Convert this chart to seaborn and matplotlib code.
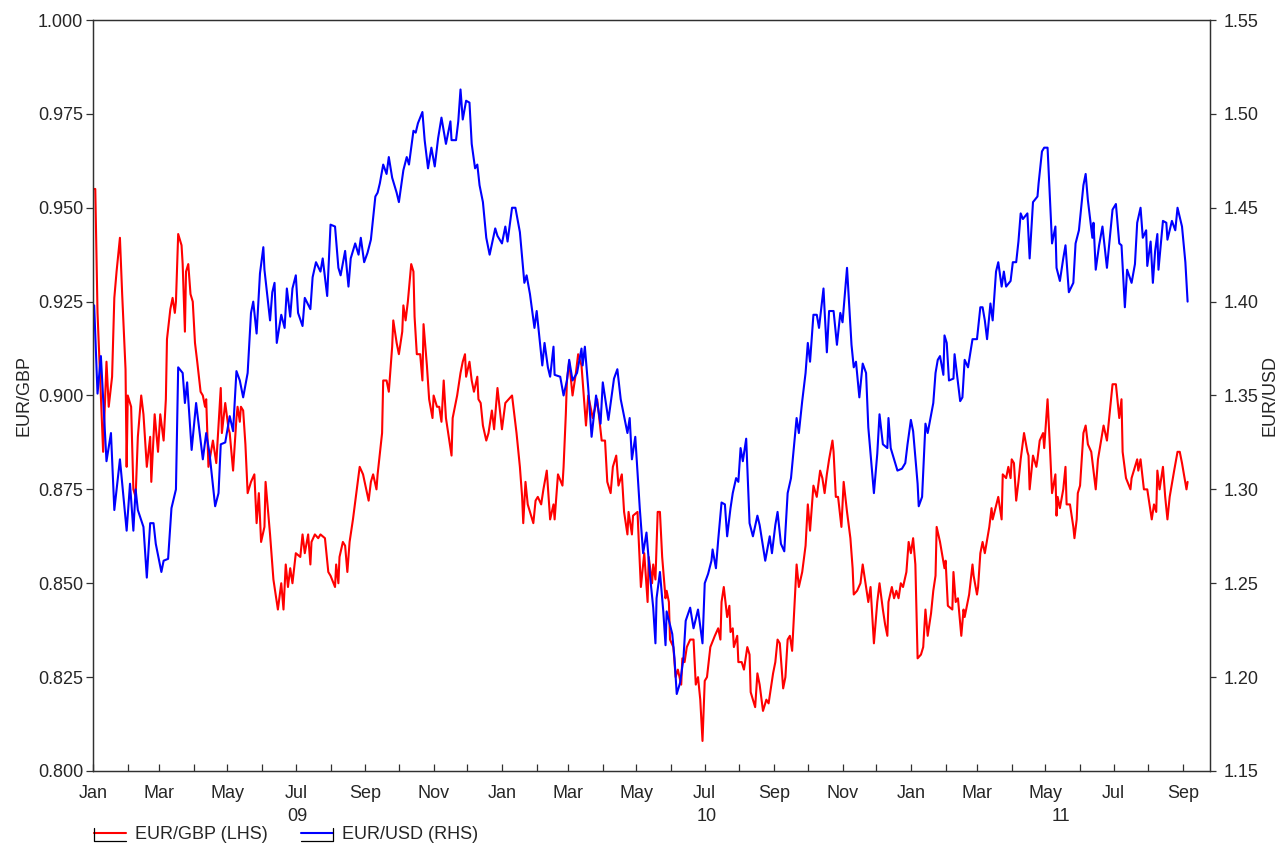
import matplotlib
matplotlib.use("Agg")
import matplotlib.pyplot as plt
import matplotlib.dates as mdates
import matplotlib.transforms as mtransforms
from matplotlib.legend_handler import HandlerLine2D
from matplotlib.lines import Line2D
from matplotlib.ticker import MultipleLocator, FormatStrFormatter
import pandas as pd
import seaborn as sns

# ---------------- data ----------------
gbp_dates = [
    "2009-01-02", "2009-01-03", "2009-01-05", "2009-01-10", "2009-01-13", "2009-01-15", "2009-01-18", "2009-01-20", "2009-01-22", "2009-01-25", "2009-01-27", "2009-01-30", "2009-01-31",
    "2009-02-01", "2009-02-04", "2009-02-06", "2009-02-08", "2009-02-10", "2009-02-13", "2009-02-15", "2009-02-18", "2009-02-21", "2009-02-22", "2009-02-25", "2009-02-28",
    "2009-03-02", "2009-03-05", "2009-03-07", "2009-03-08", "2009-03-11", "2009-03-13", "2009-03-15", "2009-03-16", "2009-03-18", "2009-03-21", "2009-03-22", "2009-03-24", "2009-03-25", "2009-03-27", "2009-03-29", "2009-03-31",
    "2009-04-02", "2009-04-04", "2009-04-07", "2009-04-09", "2009-04-11", "2009-04-12", "2009-04-14", "2009-04-18", "2009-04-21", "2009-04-23", "2009-04-25", "2009-04-26", "2009-04-29",
    "2009-05-02", "2009-05-03", "2009-05-06", "2009-05-09", "2009-05-10", "2009-05-12", "2009-05-13", "2009-05-15", "2009-05-17", "2009-05-19", "2009-05-22", "2009-05-25", "2009-05-27", "2009-05-29", "2009-05-31",
    "2009-06-03", "2009-06-04", "2009-06-08", "2009-06-11", "2009-06-15", "2009-06-18", "2009-06-20", "2009-06-22", "2009-06-24", "2009-06-26", "2009-06-28",
    "2009-07-01", "2009-07-05", "2009-07-07", "2009-07-09", "2009-07-12", "2009-07-14", "2009-07-15", "2009-07-18", "2009-07-21", "2009-07-23", "2009-07-27", "2009-07-30",
    "2009-08-01", "2009-08-05", "2009-08-06", "2009-08-08", "2009-08-09", "2009-08-12", "2009-08-14", "2009-08-16", "2009-08-18", "2009-08-21", "2009-08-24", "2009-08-27", "2009-08-30",
    "2009-09-04", "2009-09-06", "2009-09-08", "2009-09-11", "2009-09-12", "2009-09-16", "2009-09-17", "2009-09-20", "2009-09-22", "2009-09-25", "2009-09-26", "2009-09-29",
    "2009-10-01", "2009-10-04", "2009-10-05", "2009-10-07", "2009-10-09", "2009-10-12", "2009-10-14", "2009-10-15", "2009-10-17", "2009-10-20", "2009-10-22", "2009-10-23", "2009-10-26", "2009-10-28", "2009-10-31",
    "2009-11-01", "2009-11-04", "2009-11-06", "2009-11-08", "2009-11-10", "2009-11-12", "2009-11-17", "2009-11-18", "2009-11-22", "2009-11-25", "2009-11-27", "2009-11-29", "2009-11-30",
    "2009-12-03", "2009-12-05", "2009-12-07", "2009-12-10", "2009-12-11", "2009-12-13", "2009-12-15", "2009-12-18", "2009-12-20", "2009-12-23", "2009-12-25", "2009-12-28",
    "2010-01-01", "2010-01-04", "2010-01-07", "2010-01-10", "2010-01-14", "2010-01-17", "2010-01-19", "2010-01-20", "2010-01-22", "2010-01-24", "2010-01-29", "2010-01-31",
    "2010-02-02", "2010-02-05", "2010-02-07", "2010-02-10", "2010-02-13", "2010-02-16", "2010-02-17", "2010-02-20", "2010-02-24", "2010-02-25", "2010-02-27", "2010-02-28",
    "2010-03-02", "2010-03-05", "2010-03-08", "2010-03-10", "2010-03-13", "2010-03-17", "2010-03-19", "2010-03-21", "2010-03-23", "2010-03-27", "2010-03-31",
    "2010-04-03", "2010-04-05", "2010-04-08", "2010-04-10", "2010-04-13", "2010-04-15", "2010-04-18", "2010-04-20", "2010-04-23", "2010-04-24", "2010-04-27", "2010-04-28",
    "2010-05-02", "2010-05-03", "2010-05-05", "2010-05-08", "2010-05-11", "2010-05-12", "2010-05-15", "2010-05-16", "2010-05-18", "2010-05-20", "2010-05-22", "2010-05-24", "2010-05-27", "2010-05-28", "2010-05-30", "2010-05-31",
    "2010-06-03", "2010-06-05", "2010-06-07", "2010-06-10", "2010-06-11", "2010-06-13", "2010-06-15", "2010-06-18", "2010-06-21", "2010-06-23", "2010-06-25", "2010-06-27", "2010-06-29",
    "2010-07-01", "2010-07-03", "2010-07-06", "2010-07-10", "2010-07-13", "2010-07-15", "2010-07-16", "2010-07-18", "2010-07-21", "2010-07-23", "2010-07-24", "2010-07-26", "2010-07-27", "2010-07-30", "2010-07-31",
    "2010-08-03", "2010-08-05", "2010-08-08", "2010-08-10", "2010-08-11", "2010-08-15", "2010-08-17", "2010-08-19", "2010-08-22", "2010-08-25", "2010-08-27", "2010-08-31",
    "2010-09-02", "2010-09-04", "2010-09-06", "2010-09-09", "2010-09-11", "2010-09-13", "2010-09-15", "2010-09-17", "2010-09-21", "2010-09-23", "2010-09-26", "2010-09-29",
    "2010-10-01", "2010-10-03", "2010-10-06", "2010-10-09", "2010-10-12", "2010-10-14", "2010-10-16", "2010-10-18", "2010-10-20", "2010-10-23", "2010-10-24", "2010-10-26", "2010-10-28", "2010-10-31",
    "2010-11-02", "2010-11-05", "2010-11-08", "2010-11-10", "2010-11-11", "2010-11-14", "2010-11-17", "2010-11-19", "2010-11-22", "2010-11-24", "2010-11-26", "2010-11-29",
    "2010-12-02", "2010-12-04", "2010-12-07", "2010-12-09", "2010-12-11", "2010-12-12", "2010-12-15", "2010-12-17", "2010-12-19", "2010-12-21", "2010-12-23", "2010-12-25", "2010-12-28", "2010-12-30",
    "2011-01-01", "2011-01-03", "2011-01-05", "2011-01-07", "2011-01-10", "2011-01-12", "2011-01-14", "2011-01-16", "2011-01-19", "2011-01-21", "2011-01-23", "2011-01-24", "2011-01-27", "2011-01-31",
    "2011-02-01", "2011-02-03", "2011-02-07", "2011-02-08", "2011-02-10", "2011-02-12", "2011-02-15", "2011-02-17", "2011-02-18", "2011-02-22", "2011-02-25", "2011-02-26",
    "2011-03-01", "2011-03-02", "2011-03-04", "2011-03-06", "2011-03-08", "2011-03-12", "2011-03-14", "2011-03-15", "2011-03-20", "2011-03-23", "2011-03-24", "2011-03-27", "2011-03-29", "2011-03-31",
    "2011-04-01", "2011-04-03", "2011-04-05", "2011-04-07", "2011-04-09", "2011-04-12", "2011-04-15", "2011-04-16", "2011-04-17", "2011-04-20", "2011-04-23", "2011-04-24", "2011-04-26", "2011-04-29", "2011-04-30",
    "2011-05-03", "2011-05-05", "2011-05-07", "2011-05-10", "2011-05-11", "2011-05-12", "2011-05-14", "2011-05-17", "2011-05-19", "2011-05-20", "2011-05-23", "2011-05-26", "2011-05-27", "2011-05-29", "2011-05-30",
    "2011-06-01", "2011-06-04", "2011-06-05", "2011-06-06", "2011-06-08", "2011-06-11", "2011-06-13", "2011-06-15", "2011-06-17", "2011-06-22", "2011-06-25", "2011-06-28", "2011-06-30",
    "2011-07-03", "2011-07-06", "2011-07-08", "2011-07-09", "2011-07-12", "2011-07-16", "2011-07-17", "2011-07-22", "2011-07-23", "2011-07-25", "2011-07-28", "2011-07-31",
    "2011-08-02", "2011-08-04", "2011-08-06", "2011-08-08", "2011-08-09", "2011-08-11", "2011-08-14", "2011-08-16", "2011-08-18", "2011-08-20", "2011-08-24", "2011-08-27", "2011-08-29", "2011-08-31",
    "2011-09-04", "2011-09-05",
]
gbp_values = [
    0.955, 0.955, 0.922, 0.885, 0.909, 0.897, 0.905, 0.926, 0.933, 0.942, 0.927, 0.907, 0.881,
    0.900, 0.897, 0.875, 0.873, 0.889, 0.900, 0.895, 0.881, 0.889, 0.877, 0.895, 0.885,
    0.895, 0.888, 0.899, 0.915, 0.923, 0.926, 0.922, 0.925, 0.943, 0.940, 0.935, 0.917, 0.933, 0.935, 0.927, 0.925,
    0.914, 0.909, 0.901, 0.900, 0.897, 0.899, 0.881, 0.888, 0.882, 0.892, 0.902, 0.890, 0.898,
    0.891, 0.890, 0.880, 0.894, 0.897, 0.893, 0.897, 0.896, 0.887, 0.874, 0.877, 0.879, 0.866, 0.874, 0.861,
    0.865, 0.877, 0.863, 0.851, 0.843, 0.850, 0.843, 0.855, 0.849, 0.854, 0.850,
    0.858, 0.857, 0.863, 0.858, 0.863, 0.855, 0.861, 0.863, 0.862, 0.863, 0.862, 0.853,
    0.852, 0.849, 0.855, 0.850, 0.857, 0.861, 0.860, 0.853, 0.861, 0.867, 0.874, 0.881, 0.879,
    0.872, 0.877, 0.879, 0.875, 0.879, 0.890, 0.904, 0.904, 0.901, 0.913, 0.920, 0.914,
    0.911, 0.917, 0.924, 0.920, 0.925, 0.935, 0.933, 0.921, 0.911, 0.911, 0.904, 0.919, 0.908, 0.899, 0.894,
    0.900, 0.897, 0.897, 0.893, 0.904, 0.894, 0.884, 0.894, 0.900, 0.906, 0.909, 0.911, 0.905,
    0.909, 0.904, 0.901, 0.905, 0.899, 0.898, 0.892, 0.888, 0.890, 0.896, 0.891, 0.902,
    0.891, 0.898, 0.899, 0.900, 0.890, 0.881, 0.873, 0.866, 0.877, 0.871, 0.866, 0.872,
    0.873, 0.871, 0.875, 0.880, 0.867, 0.871, 0.867, 0.879, 0.876, 0.881, 0.895, 0.904,
    0.909, 0.900, 0.906, 0.911, 0.908, 0.892, 0.900, 0.897, 0.894, 0.899, 0.888,
    0.888, 0.877, 0.874, 0.881, 0.884, 0.876, 0.879, 0.869, 0.863, 0.869, 0.863, 0.868,
    0.869, 0.862, 0.849, 0.858, 0.845, 0.857, 0.850, 0.855, 0.851, 0.869, 0.869, 0.857, 0.846, 0.848, 0.845, 0.835,
    0.833, 0.825, 0.827, 0.823, 0.830, 0.829, 0.833, 0.835, 0.835, 0.823, 0.825, 0.819, 0.808,
    0.824, 0.825, 0.833, 0.836, 0.838, 0.835, 0.845, 0.849, 0.841, 0.844, 0.837, 0.838, 0.833, 0.836, 0.829,
    0.829, 0.827, 0.833, 0.831, 0.821, 0.817, 0.826, 0.823, 0.816, 0.819, 0.818, 0.826,
    0.829, 0.835, 0.834, 0.822, 0.825, 0.835, 0.836, 0.832, 0.855, 0.849, 0.853, 0.860,
    0.871, 0.864, 0.876, 0.873, 0.880, 0.878, 0.874, 0.879, 0.883, 0.888, 0.885, 0.873, 0.873, 0.865,
    0.877, 0.869, 0.862, 0.854, 0.847, 0.848, 0.850, 0.855, 0.849, 0.845, 0.849, 0.834,
    0.845, 0.850, 0.843, 0.839, 0.836, 0.845, 0.849, 0.846, 0.848, 0.846, 0.850, 0.849, 0.853, 0.861,
    0.858, 0.862, 0.855, 0.830, 0.831, 0.833, 0.843, 0.836, 0.842, 0.848, 0.852, 0.865, 0.861, 0.854,
    0.856, 0.844, 0.843, 0.853, 0.845, 0.846, 0.836, 0.843, 0.841, 0.847, 0.855, 0.852,
    0.847, 0.849, 0.858, 0.861, 0.858, 0.865, 0.870, 0.867, 0.873, 0.867, 0.879, 0.878, 0.881, 0.878,
    0.883, 0.882, 0.872, 0.877, 0.883, 0.890, 0.885, 0.884, 0.875, 0.884, 0.881, 0.883, 0.888, 0.890, 0.886,
    0.899, 0.887, 0.874, 0.879, 0.868, 0.873, 0.870, 0.875, 0.881, 0.871, 0.871, 0.865, 0.862, 0.867, 0.874,
    0.876, 0.890, 0.891, 0.892, 0.887, 0.885, 0.880, 0.875, 0.883, 0.892, 0.888, 0.897, 0.903,
    0.903, 0.894, 0.899, 0.885, 0.878, 0.875, 0.878, 0.883, 0.880, 0.883, 0.875, 0.875,
    0.871, 0.867, 0.871, 0.869, 0.880, 0.875, 0.881, 0.873, 0.867, 0.873, 0.880, 0.885, 0.885, 0.882,
    0.875, 0.877,
]

usd_dates = [
    "2009-01-02", "2009-01-05", "2009-01-08", "2009-01-13", "2009-01-17", "2009-01-20", "2009-01-25", "2009-01-31",
    "2009-02-03", "2009-02-06", "2009-02-08", "2009-02-10", "2009-02-15", "2009-02-18", "2009-02-21", "2009-02-24", "2009-02-26",
    "2009-03-03", "2009-03-05", "2009-03-09", "2009-03-12", "2009-03-16", "2009-03-18", "2009-03-22", "2009-03-24", "2009-03-26", "2009-03-30",
    "2009-04-03", "2009-04-09", "2009-04-12", "2009-04-15", "2009-04-20", "2009-04-23", "2009-04-25", "2009-04-29",
    "2009-05-03", "2009-05-06", "2009-05-09", "2009-05-12", "2009-05-15", "2009-05-19", "2009-05-22", "2009-05-24", "2009-05-27", "2009-05-30",
    "2009-06-02", "2009-06-03", "2009-06-08", "2009-06-10", "2009-06-12", "2009-06-14", "2009-06-18", "2009-06-21", "2009-06-23", "2009-06-26", "2009-06-28",
    "2009-07-01", "2009-07-03", "2009-07-07", "2009-07-09", "2009-07-14", "2009-07-16", "2009-07-19", "2009-07-23", "2009-07-25", "2009-07-29",
    "2009-08-01", "2009-08-05", "2009-08-08", "2009-08-10", "2009-08-14", "2009-08-17", "2009-08-19", "2009-08-23", "2009-08-26", "2009-08-28", "2009-08-31",
    "2009-09-03", "2009-09-06", "2009-09-10", "2009-09-12", "2009-09-14", "2009-09-17", "2009-09-20", "2009-09-22", "2009-09-25", "2009-09-29",
    "2009-10-01", "2009-10-05", "2009-10-08", "2009-10-10", "2009-10-14", "2009-10-16", "2009-10-18", "2009-10-22", "2009-10-24", "2009-10-27", "2009-10-30",
    "2009-11-02", "2009-11-05", "2009-11-08", "2009-11-12", "2009-11-16", "2009-11-17", "2009-11-21", "2009-11-23", "2009-11-25", "2009-11-27", "2009-11-30",
    "2009-12-03", "2009-12-05", "2009-12-08", "2009-12-10", "2009-12-12", "2009-12-15", "2009-12-18", "2009-12-21", "2009-12-26", "2009-12-28",
    "2010-01-01", "2010-01-04", "2010-01-06", "2010-01-10", "2010-01-13", "2010-01-17", "2010-01-21", "2010-01-23", "2010-01-26", "2010-01-30",
    "2010-02-01", "2010-02-06", "2010-02-08", "2010-02-11", "2010-02-13", "2010-02-16", "2010-02-17", "2010-02-22", "2010-02-25", "2010-02-28",
    "2010-03-02", "2010-03-05", "2010-03-09", "2010-03-13", "2010-03-14", "2010-03-16", "2010-03-19", "2010-03-22", "2010-03-26", "2010-03-30",
    "2010-04-01", "2010-04-06", "2010-04-11", "2010-04-14", "2010-04-17", "2010-04-23", "2010-04-25", "2010-04-27", "2010-04-30",
    "2010-05-04", "2010-05-07", "2010-05-10", "2010-05-13", "2010-05-16", "2010-05-18", "2010-05-19", "2010-05-22", "2010-05-25", "2010-05-27", "2010-05-28",
    "2010-06-02", "2010-06-04", "2010-06-06", "2010-06-09", "2010-06-12", "2010-06-14", "2010-06-18", "2010-06-21", "2010-06-25", "2010-06-29",
    "2010-07-01", "2010-07-04", "2010-07-07", "2010-07-08", "2010-07-11", "2010-07-13", "2010-07-16", "2010-07-19", "2010-07-21", "2010-07-24", "2010-07-26", "2010-07-29", "2010-07-31",
    "2010-08-02", "2010-08-04", "2010-08-07", "2010-08-10", "2010-08-13", "2010-08-17", "2010-08-19", "2010-08-24", "2010-08-28", "2010-08-30",
    "2010-09-02", "2010-09-04", "2010-09-07", "2010-09-10", "2010-09-13", "2010-09-16", "2010-09-21", "2010-09-23", "2010-09-26", "2010-09-29",
    "2010-10-01", "2010-10-03", "2010-10-06", "2010-10-09", "2010-10-11", "2010-10-15", "2010-10-16", "2010-10-18", "2010-10-20", "2010-10-24", "2010-10-27", "2010-10-30",
    "2010-11-01", "2010-11-05", "2010-11-09", "2010-11-11", "2010-11-13", "2010-11-16", "2010-11-19", "2010-11-22", "2010-11-24", "2010-11-29",
    "2010-12-02", "2010-12-04", "2010-12-07", "2010-12-11", "2010-12-12", "2010-12-14", "2010-12-20", "2010-12-24", "2010-12-27", "2010-12-29",
    "2011-01-01", "2011-01-03", "2011-01-07", "2011-01-08", "2011-01-11", "2011-01-14", "2011-01-16", "2011-01-21", "2011-01-23", "2011-01-25", "2011-01-27", "2011-01-30", "2011-01-31",
    "2011-02-02", "2011-02-04", "2011-02-08", "2011-02-09", "2011-02-12", "2011-02-14", "2011-02-16", "2011-02-18", "2011-02-21", "2011-02-25",
    "2011-03-01", "2011-03-04", "2011-03-06", "2011-03-08", "2011-03-10", "2011-03-13", "2011-03-15", "2011-03-18", "2011-03-20", "2011-03-23", "2011-03-25", "2011-03-27", "2011-03-31",
    "2011-04-02", "2011-04-05", "2011-04-07", "2011-04-09", "2011-04-11", "2011-04-15", "2011-04-17", "2011-04-20", "2011-04-24", "2011-04-25", "2011-04-28", "2011-04-30",
    "2011-05-03", "2011-05-07", "2011-05-10", "2011-05-11", "2011-05-14", "2011-05-17", "2011-05-19", "2011-05-22", "2011-05-26", "2011-05-28", "2011-05-31",
    "2011-06-04", "2011-06-06", "2011-06-08", "2011-06-12", "2011-06-13", "2011-06-15", "2011-06-18", "2011-06-21", "2011-06-25", "2011-06-30",
    "2011-07-03", "2011-07-06", "2011-07-08", "2011-07-11", "2011-07-13", "2011-07-17", "2011-07-20", "2011-07-22", "2011-07-25", "2011-07-27", "2011-07-30", "2011-07-31",
    "2011-08-03", "2011-08-05", "2011-08-07", "2011-08-09", "2011-08-10", "2011-08-14", "2011-08-17", "2011-08-18", "2011-08-22", "2011-08-25", "2011-08-27", "2011-08-31",
    "2011-09-03", "2011-09-05",
]
usd_values = [
    1.398, 1.351, 1.371, 1.315, 1.330, 1.289, 1.316, 1.278,
    1.303, 1.278, 1.300, 1.289, 1.280, 1.253, 1.282, 1.282, 1.271,
    1.256, 1.262, 1.263, 1.290, 1.300, 1.365, 1.362, 1.346, 1.357, 1.321,
    1.346, 1.316, 1.330, 1.319, 1.291, 1.298, 1.324, 1.325,
    1.339, 1.331, 1.363, 1.358, 1.349, 1.362, 1.394, 1.400, 1.383, 1.415,
    1.429, 1.417, 1.390, 1.405, 1.410, 1.378, 1.393, 1.386, 1.407, 1.392, 1.407,
    1.414, 1.394, 1.387, 1.402, 1.396, 1.413, 1.421, 1.416, 1.423, 1.403,
    1.441, 1.440, 1.418, 1.414, 1.427, 1.408, 1.423, 1.431, 1.425, 1.434, 1.421,
    1.426, 1.433, 1.456, 1.458, 1.463, 1.473, 1.468, 1.477, 1.466, 1.458,
    1.453, 1.470, 1.477, 1.473, 1.491, 1.490, 1.495, 1.501, 1.486, 1.471, 1.482,
    1.472, 1.487, 1.498, 1.484, 1.496, 1.486, 1.486, 1.496, 1.513, 1.497, 1.507,
    1.506, 1.484, 1.471, 1.473, 1.462, 1.453, 1.434, 1.425, 1.439, 1.435,
    1.431, 1.440, 1.432, 1.450, 1.450, 1.437, 1.410, 1.414, 1.404, 1.386,
    1.395, 1.366, 1.378, 1.365, 1.360, 1.376, 1.361, 1.360, 1.350, 1.358,
    1.369, 1.358, 1.362, 1.375, 1.366, 1.376, 1.354, 1.328, 1.350, 1.335,
    1.357, 1.337, 1.359, 1.364, 1.348, 1.330, 1.338, 1.316, 1.328,
    1.290, 1.266, 1.277, 1.255, 1.237, 1.218, 1.242, 1.256, 1.235, 1.217, 1.235,
    1.223, 1.210, 1.191, 1.197, 1.210, 1.230, 1.237, 1.226, 1.236, 1.218,
    1.250, 1.255, 1.262, 1.268, 1.258, 1.273, 1.293, 1.292, 1.275, 1.290, 1.298, 1.306, 1.304,
    1.322, 1.315, 1.327, 1.282, 1.275, 1.286, 1.281, 1.262, 1.275, 1.266,
    1.281, 1.288, 1.271, 1.267, 1.298, 1.306, 1.338, 1.330, 1.347, 1.362,
    1.378, 1.368, 1.393, 1.393, 1.386, 1.407, 1.395, 1.373, 1.395, 1.395, 1.377, 1.394,
    1.389, 1.418, 1.377, 1.365, 1.368, 1.349, 1.367, 1.362, 1.333, 1.298,
    1.319, 1.340, 1.324, 1.322, 1.338, 1.322, 1.310, 1.311, 1.314, 1.324,
    1.337, 1.331, 1.303, 1.291, 1.296, 1.335, 1.330, 1.346, 1.362, 1.369, 1.371, 1.361, 1.382,
    1.378, 1.358, 1.359, 1.372, 1.357, 1.347, 1.349, 1.369, 1.365, 1.380,
    1.380, 1.397, 1.397, 1.390, 1.380, 1.399, 1.390, 1.416, 1.421, 1.408, 1.416, 1.408, 1.411,
    1.421, 1.421, 1.432, 1.447, 1.444, 1.447, 1.423, 1.453, 1.456, 1.463, 1.480, 1.482,
    1.482, 1.431, 1.440, 1.418, 1.411, 1.423, 1.430, 1.405, 1.410, 1.431, 1.438,
    1.462, 1.468, 1.454, 1.434, 1.442, 1.417, 1.430, 1.440, 1.418, 1.449,
    1.452, 1.431, 1.430, 1.397, 1.417, 1.410, 1.420, 1.442, 1.450, 1.434, 1.438, 1.419,
    1.432, 1.410, 1.427, 1.436, 1.417, 1.443, 1.442, 1.433, 1.443, 1.438, 1.450, 1.440,
    1.421, 1.400,
]

series_labels = ["EUR/GBP (LHS)", "EUR/USD (RHS)"]
year_labels = ["09", "10", "11"]
x_start, x_end = "2009-01-01", "2011-09-25"

# ---------------- style ----------------
sns.set_style("ticks")
plt.rcParams["font.family"] = ["Liberation Sans", "DejaVu Sans"]
plt.rcParams["font.size"] = 13

RED = "#ff0000"
BLUE = "#0000ff"
FRAME = "#303030"

gbp = pd.DataFrame({"date": pd.to_datetime(gbp_dates), "value": gbp_values})
usd = pd.DataFrame({"date": pd.to_datetime(usd_dates), "value": usd_values})

fig = plt.figure(figsize=(12.78, 8.44), dpi=100)
ax = fig.add_axes([0.0728, 0.0865, 0.8740, 0.8898])
ax2 = ax.twinx()

sns.lineplot(data=gbp, x="date", y="value", ax=ax, color=RED, linewidth=1.5,
             estimator=None, legend=False)
sns.lineplot(data=usd, x="date", y="value", ax=ax2, color=BLUE, linewidth=1.5,
             estimator=None, legend=False)

ax.set_xlim(pd.Timestamp(x_start), pd.Timestamp(x_end))
ax.set_ylim(0.80, 1.00)
ax2.set_ylim(1.15, 1.55)
ax.yaxis.set_major_locator(MultipleLocator(0.025))
ax.yaxis.set_major_formatter(FormatStrFormatter("%.3f"))
ax2.yaxis.set_major_locator(MultipleLocator(0.05))
ax2.yaxis.set_major_formatter(FormatStrFormatter("%.2f"))

ax.xaxis.set_major_locator(mdates.MonthLocator(bymonth=[1, 3, 5, 7, 9, 11]))
ax.xaxis.set_major_formatter(mdates.DateFormatter("%b"))
ax.xaxis.set_minor_locator(mdates.MonthLocator())

ax.set_xlabel("")
ax.set_ylabel("EUR/GBP", fontsize=13)
ax2.set_ylabel("EUR/USD", fontsize=13)
ax.yaxis.set_label_coords(-0.0545, 0.5)
ax2.yaxis.set_label_coords(1.046, 0.5)

ax.tick_params(axis="x", which="both", direction="in", length=5, width=0.9,
               color=FRAME, pad=10, labelsize=13, top=False)
ax.tick_params(axis="y", direction="out", length=5, width=0.9, color=FRAME,
               pad=2, labelsize=13)
ax2.tick_params(axis="y", direction="out", length=4, width=0.9, color=FRAME,
                pad=6, labelsize=13)

for a in (ax, ax2):
    for s in a.spines.values():
        s.set_visible(True)
        s.set_color(FRAME)
        s.set_linewidth(0.9)

# year labels under the month labels, centred on each year's visible span
trans = mtransforms.blended_transform_factory(ax.transData, ax.transAxes)
lo, hi = pd.Timestamp(x_start), pd.Timestamp(x_end)
for lab in year_labels:
    yr = 2000 + int(lab)
    a0 = max(pd.Timestamp(f"{yr}-01-01"), lo)
    a1 = min(pd.Timestamp(f"{yr + 1}-01-01"), hi)
    mid = a0 + (a1 - a0) / 2
    ax.text(mid, -0.0605, lab, transform=trans, ha="center", va="center", fontsize=13)


class BracketHandler(HandlerLine2D):
    """Legend key with a thin black bracket drawn round the line sample."""

    def __init__(self, side, **kw):
        super().__init__(**kw)
        self.side = side

    def create_artists(self, legend, orig_handle, xdescent, ydescent, width,
                       height, fontsize, trans):
        arts = super().create_artists(legend, orig_handle, xdescent, ydescent,
                                      width, height, fontsize, trans)
        x0, x1 = -xdescent, -xdescent + width
        y0 = -ydescent - 0.15 * height
        y1 = y0 + 1.05 * height
        if self.side == "left":
            xs, ys = [x0, x0, x1], [y1, y0, y0]
        else:
            xs, ys = [x0, x1, x1], [y0, y0, y1]
        br = Line2D(xs, ys, color="black", linewidth=0.9, transform=trans)
        return list(arts) + [br]


h1 = Line2D([], [], color=RED, linewidth=1.5)
h2 = Line2D([], [], color=BLUE, linewidth=1.5)
fig.legend([h1, h2], series_labels, loc="lower left",
           bbox_to_anchor=(0.0728, 0.0), ncol=2, frameon=False, fontsize=13,
           handlelength=1.8, handletextpad=0.5, columnspacing=1.8,
           borderpad=0.05, borderaxespad=0.0,
           handler_map={h1: BracketHandler("left"), h2: BracketHandler("right")})

fig.savefig("out.png", dpi=100)
